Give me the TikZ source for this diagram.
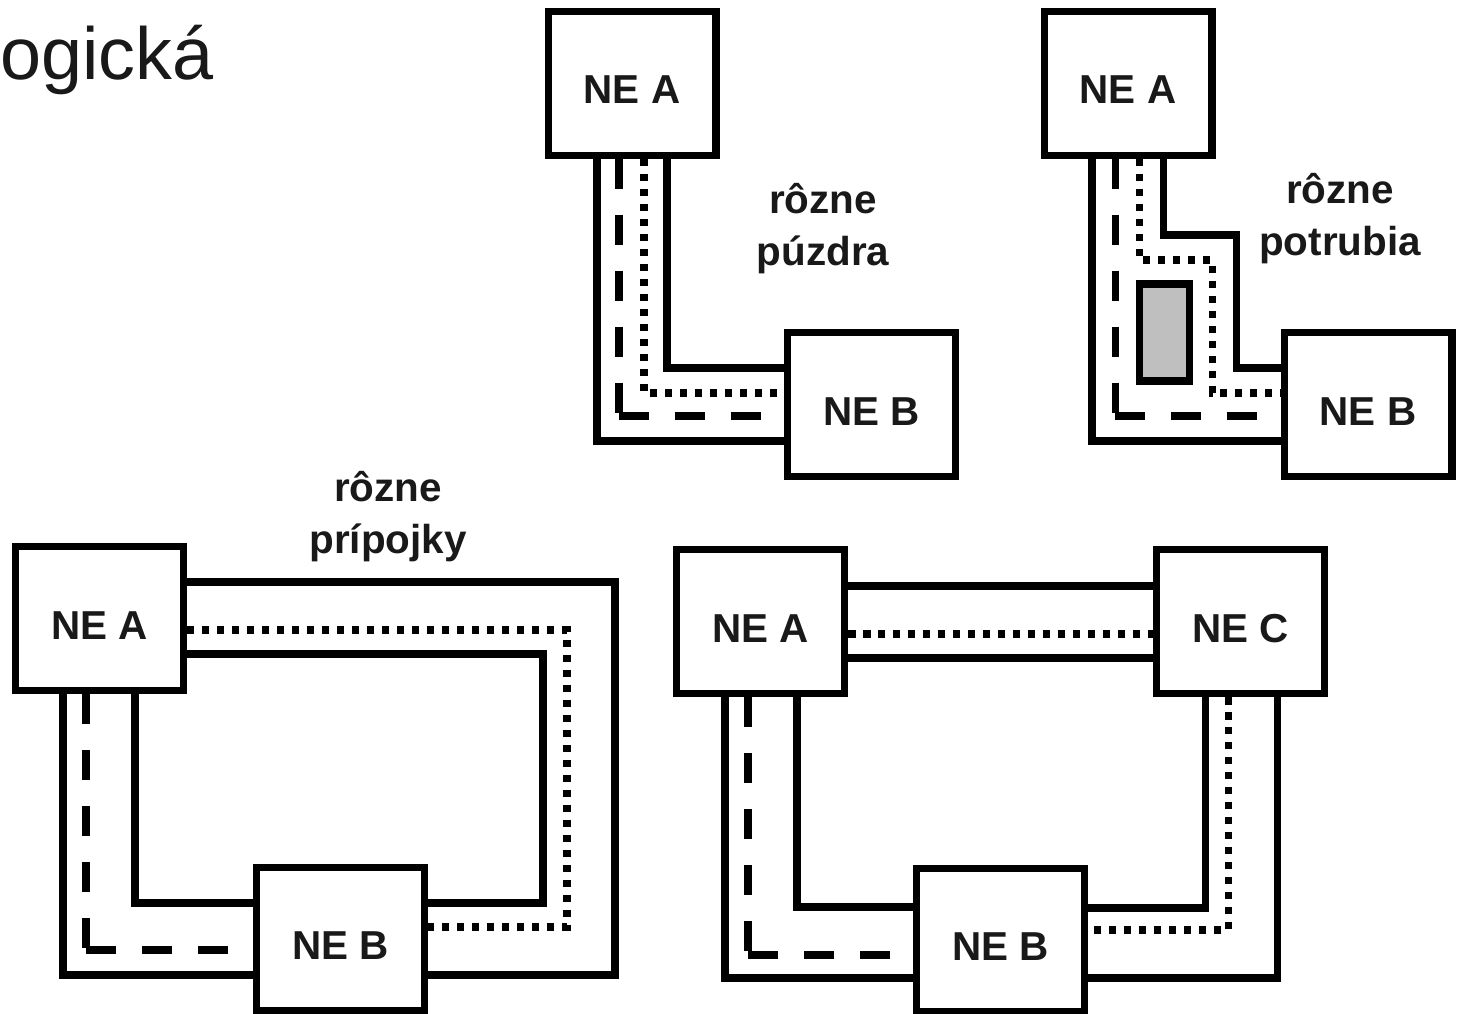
\documentclass[tikz,border=0pt]{standalone}
\usepackage{fontspec}
\setmainfont{Liberation Sans}
\usepackage{tikz}
\usetikzlibrary{positioning}

\tikzset{
  ne/.style={draw, line width=4pt, fill=white, minimum width=3.36cm, minimum height=2.88cm,
    inner sep=0pt, text height=0.82cm, text depth=0pt, text=black!90,
    font=\bfseries\fontsize{23}{28}\selectfont},
  wire/.style={line width=4pt, line join=miter},
  dashwire/.style={line width=4pt, dash pattern=on 0.6cm off 0.52cm},
  dotwire/.style={line width=4pt, dash pattern=on 0.15cm off 0.15cm},
  lbl/.style={align=center, inner sep=0pt, text=black!90,
    font=\bfseries\fontsize{23}{29.5}\selectfont}
}

\begin{document}
\begin{tikzpicture}[x=0.02cm, y=-0.02cm]
			\useasboundingbox (0,0) rectangle (1457,1014);
			
			\node[anchor=base west, inner sep=0pt, text=black!90, font=\fontsize{42}{50}\selectfont] (title) at (0,79) {ogická};
			
			% rôzne púzdra
			\node[ne] (A1) at (632,83.5) {NE A};
			\node[ne] (B1) at (871.5,404.5) {NE B};
			\coordinate (p1o) at (597,441);
			\coordinate (p1i) at (667,368);
			\coordinate (p1d) at (619,416);
			\coordinate (p1t) at (644,393);
			\draw[wire] (A1.south -| p1o) -- (p1o) -- (B1.west |- p1o);
			\draw[wire] (A1.south -| p1i) -- (p1i) -- (B1.west |- p1i);
			\draw[dashwire] (A1.south -| p1d) -- (p1d);
			\draw[dashwire] (p1d) -- (B1.west |- p1d);
			\draw[dotwire] (A1.south -| p1t) -- (p1t) -- (B1.west |- p1t);
			\node[lbl, anchor=base] (l1) at (823,265) {rôzne\\púzdra};
			
			% rôzne potrubia
			\node[ne] (A2) at (1128,83.5) {NE A};
			\node[ne] (B2) at (1368,404.5) {NE B};
			\coordinate (p2o) at (1092,441);
			\coordinate (p2i1) at (1163,235);
			\coordinate (p2i2) at (1236,368);
			\coordinate (p2d) at (1115,416);
			\coordinate (p2t1) at (1139,260);
			\coordinate (p2t2) at (1212,393);
			\draw[wire] (A2.south -| p2o) -- (p2o) -- (B2.west |- p2o);
			\draw[wire] (A2.south -| p2i1) -- (p2i1) -| (p2i2) -- (B2.west |- p2i2);
			\draw[dashwire] (A2.south -| p2d) -- (p2d);
			\draw[dashwire] (p2d) -- (B2.west |- p2d);
			\draw[dotwire] (A2.south -| p2t1) -- (p2t1) -| (p2t2) -- (B2.west |- p2t2);
			\draw[wire, fill=gray!50] (1139,284) rectangle (1189,381);
			\node[lbl, anchor=base] (l2) at (1340,255) {rôzne\\potrubia};
			
			% rôzne prípojky
			\node[ne] (A3) at (99.5,618.5) {NE A};
			\node[ne] (B3) at (340.5,939) {NE B};
			\coordinate (p3o1) at (615,582);
			\coordinate (p3o2) at (615,975);
			\coordinate (p3i1) at (543,654);
			\coordinate (p3i2) at (543,903);
			\coordinate (p3t1) at (567,630);
			\coordinate (p3t2) at (567,927);
			\coordinate (p3o3) at (63,975);
			\coordinate (p3i3) at (135,903);
			\coordinate (p3d) at (86,950);
			\draw[wire] (A3.east |- p3o1) -- (p3o1) -- (p3o2) -- (B3.east |- p3o2);
			\draw[wire] (A3.east |- p3i1) -- (p3i1) -- (p3i2) -- (B3.east |- p3i2);
			\draw[dotwire] (A3.east |- p3t1) -- (p3t1) -- (p3t2) -- (B3.east |- p3t2);
			\draw[wire] (A3.south -| p3o3) -- (p3o3) -- (B3.west |- p3o3);
			\draw[wire] (A3.south -| p3i3) -- (p3i3) -- (B3.west |- p3i3);
			\draw[dashwire] (A3.south -| p3d) -- (p3d);
			\draw[dashwire] (p3d) -- (B3.west |- p3d);
			\node[lbl, anchor=base] (l3) at (388,553) {rôzne\\prípojky};
			
			% kruh
			\node[ne] (A4) at (760.5,621.5) {NE A};
			\node[ne] (C4) at (1240.5,621.5) {NE C};
			\node[ne] (B4) at (1000.5,940) {NE B};
			\coordinate (p4a) at (0,586);
			\coordinate (p4b) at (0,658);
			\coordinate (p4c) at (0,634);
			\draw[wire] (A4.east |- p4a) -- (C4.west |- p4a);
			\draw[wire] (A4.east |- p4b) -- (C4.west |- p4b);
			\draw[dotwire] (A4.east |- p4c) -- (C4.west |- p4c);
			\coordinate (p4o1) at (725,978);
			\coordinate (p4i1) at (797,907);
			\coordinate (p4d) at (748,955);
			\draw[wire] (A4.south -| p4o1) -- (p4o1) -- (B4.west |- p4o1);
			\draw[wire] (A4.south -| p4i1) -- (p4i1) -- (B4.west |- p4i1);
			\draw[dashwire] (A4.south -| p4d) -- (p4d);
			\draw[dashwire] (p4d) -- (B4.west |- p4d);
			\coordinate (p4o2) at (1277,978);
			\coordinate (p4i2) at (1205,908);
			\coordinate (p4t) at (1228,930);
			\draw[wire] (C4.south -| p4o2) -- (p4o2) -- (B4.east |- p4o2);
			\draw[wire] (C4.south -| p4i2) -- (p4i2) -- (B4.east |- p4i2);
			\draw[dotwire] (C4.south -| p4t) -- (p4t) -- (B4.east |- p4t);
			
		\end{tikzpicture}
\end{document}
